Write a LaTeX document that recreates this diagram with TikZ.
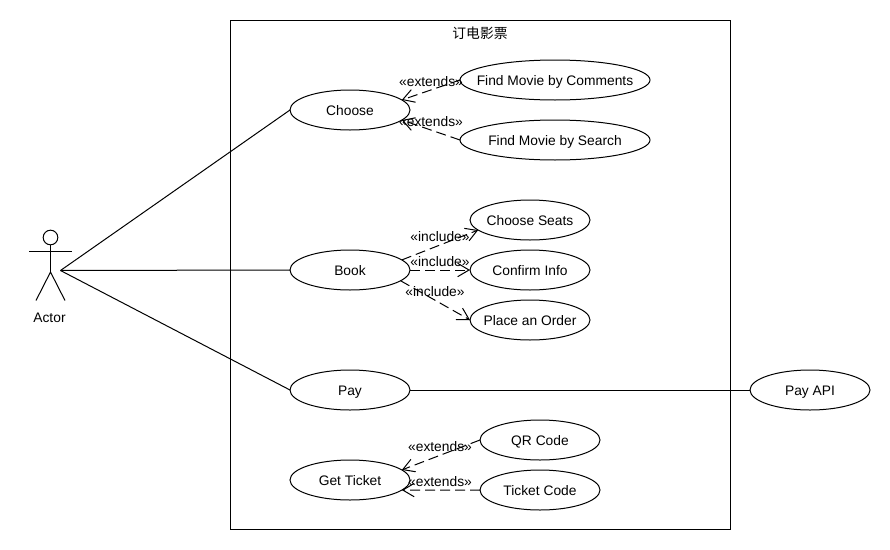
\documentclass[tikz,border=0pt]{standalone}
\usepackage{fontspec}
\setmainfont{Liberation Sans}
\newfontfamily\cjkfont{Noto Sans CJK SC}
\usetikzlibrary{arrows.meta,shapes.geometric}
\tikzset{>={Straight Barb[length=8.5pt,width=10pt]},
  usecase/.style={draw,ellipse,minimum height=30pt,minimum width=#1,inner xsep=-25pt,inner ysep=0pt,outer sep=0pt,text height=7.5pt,text depth=0pt},
  usecase/.default=90pt,
  dep/.style={->,dash pattern=on 7.5pt off 3.75pt},
  stereo/.style={inner sep=0pt}}

\begin{document}
\begin{tikzpicture}[x=0.75pt,y=-0.75pt,line width=0.75pt,font=\fontsize{10.35pt}{12pt}\selectfont]
    \useasboundingbox (0,0) rectangle (890,550);
    \draw (230.5,20.5) rectangle (730.5,529.5);
    \node [stereo] (title) at (480,33) {\cjkfont 订电影票};
    % actor
    \node [draw,circle,minimum size=11pt,inner sep=0pt,outer sep=0pt] (head) at (50.5,237.5) {};
    \coordinate (waist) at (50.5,272);
    \coordinate (armleft) at (29,251.5);
    \coordinate (armright) at (72,251.5);
    \coordinate (footleft) at (36,300.5);
    \coordinate (footright) at (65,300.5);
    \coordinate (actor) at (60.5,270.5);
    \draw (head) -- (waist);
    \draw (armleft) -- (armright);
    \draw (footleft) -- (waist) -- (footright);
    \node [stereo] (actorname) at (49.5,318) {Actor};
    % use cases
    \node [usecase] (choose) at (350,110) {Choose};
    \node [usecase=142.5pt] (comments) at (555,80) {Find Movie by Comments};
    \node [usecase=142.5pt] (search) at (555,140) {Find Movie by Search};
    \node [usecase] (book) at (350,270) {Book};
    \node [usecase] (seats) at (530,220) {Choose Seats};
    \node [usecase] (confirm) at (530,270) {Confirm Info};
    \node [usecase] (order) at (530,320) {Place an Order};
    \node [usecase] (pay) at (350,390) {Pay};
    \node [usecase] (payapi) at (810,390) {Pay API};
    \node [usecase] (ticket) at (350,480) {Get Ticket};
    \node [usecase] (qr) at (540,440) {QR Code};
    \node [usecase] (code) at (540,490) {Ticket Code};
    % associations
    \draw (actor) -- (choose.west);
    \draw (actor) -- (book.west);
    \draw (actor) -- (pay.west);
    \draw (pay.east) -- (payapi.west);
    % dependencies
    \draw [dep] (comments.west) -- (choose.11);
    \draw [dep] (search.west) -- (choose.-11);
    \draw [dep] (book.11) -- (seats.191);
    \draw [dep] (book.east) -- (confirm.west);
    \draw [dep] (book.-12) -- (order.west);
    \draw [dep] (qr.west) -- (ticket.11);
    \draw [dep] (code.west) -- (ticket.-11);
    \node [stereo] (extendsa) at (431,81.5) {«extends»};
    \node [stereo] (extendsb) at (431,121.5) {«extends»};
    \node [stereo] (includea) at (440,236.5) {«include»};
    \node [stereo] (includeb) at (440,261.5) {«include»};
    \node [stereo] (includec) at (435,291.5) {«include»};
    \node [stereo] (extendsc) at (440,446.5) {«extends»};
    \node [stereo] (extendsd) at (440,481.5) {«extends»};
\end{tikzpicture}
\end{document}
